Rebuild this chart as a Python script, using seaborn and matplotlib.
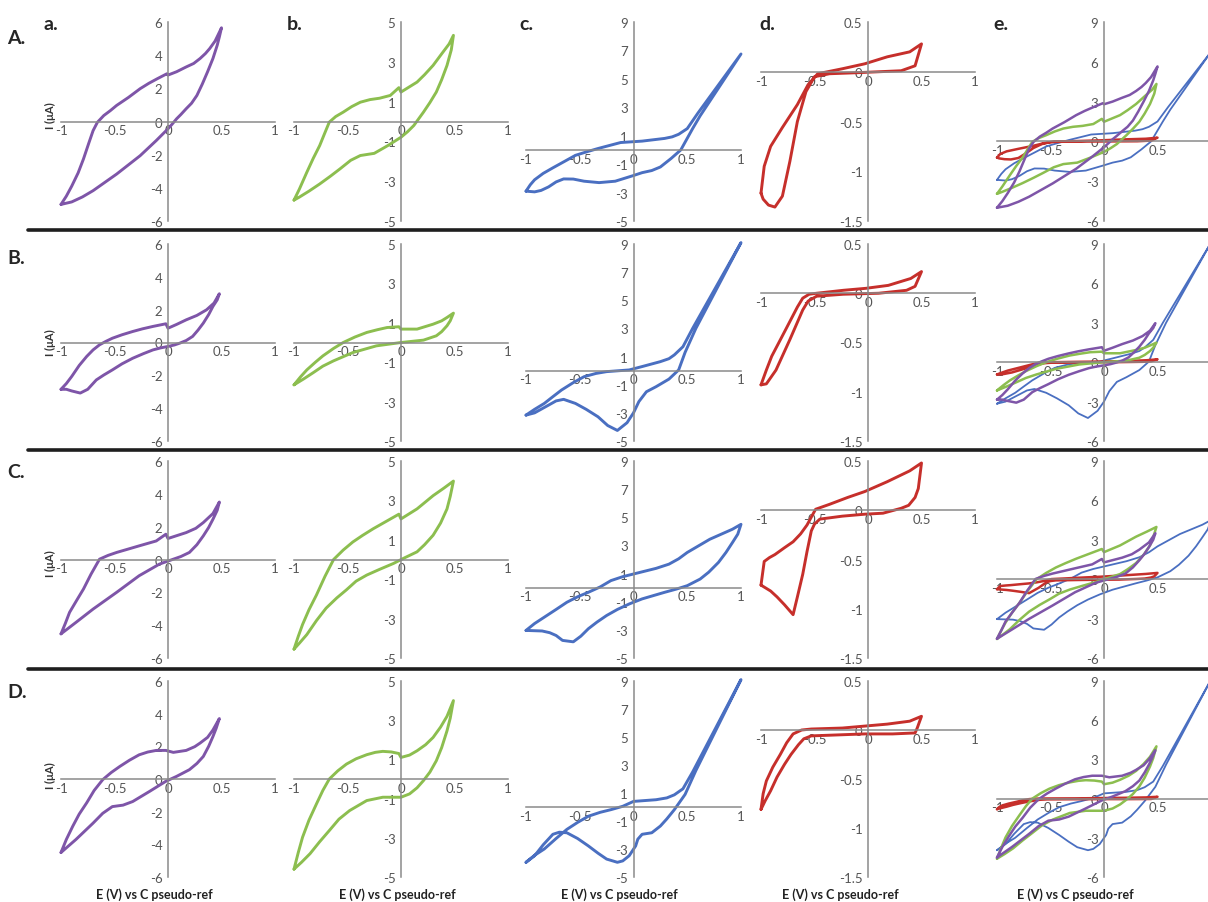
import matplotlib
matplotlib.use("Agg")
import matplotlib.pyplot as plt
from matplotlib.lines import Line2D
import pandas as pd
import seaborn as sns

# ---- data: each cyclic voltammogram as a closed path of (E [V], I [uA])
A_a = [(-1.00, -5.00), (-0.95, -4.50), (-0.90, -3.90), (-0.84, -3.10), (-0.79, -2.26), (-0.74, -1.30),
       (-0.70, -0.55), (-0.66, -0.05), (-0.60, 0.36), (-0.54, 0.65), (-0.48, 0.97), (-0.37, 1.45),
       (-0.26, 1.98), (-0.18, 2.30), (-0.10, 2.58), (-0.01, 2.88), (0.00, 2.80), (0.08, 3.00), (0.17, 3.29),
       (0.24, 3.50), (0.30, 3.80), (0.35, 4.10), (0.39, 4.40), (0.44, 4.85), (0.50, 5.65), (0.48, 5.10),
       (0.46, 4.60), (0.42, 3.80), (0.37, 3.00), (0.32, 2.25), (0.27, 1.57), (0.22, 1.10), (0.17, 0.77),
       (0.12, 0.42), (0.08, 0.16), (0.04, -0.15), (0.00, -0.44), (-0.11, -1.15), (-0.26, -2.06),
       (-0.48, -3.17), (-0.70, -4.17), (-0.80, -4.55), (-0.90, -4.85), (-1.00, -5.00)]
A_b = [(-1.00, -3.95), (-0.95, -3.40), (-0.88, -2.55), (-0.82, -1.85), (-0.76, -1.21), (-0.71, -0.55),
       (-0.67, -0.03), (-0.61, 0.25), (-0.54, 0.47), (-0.46, 0.75), (-0.38, 0.97), (-0.29, 1.10),
       (-0.20, 1.17), (-0.10, 1.31), (-0.02, 1.70), (0.00, 1.48), (0.15, 1.98), (0.22, 2.35), (0.30, 2.82),
       (0.38, 3.40), (0.45, 3.90), (0.49, 4.33), (0.47, 3.60), (0.43, 2.82), (0.38, 2.10), (0.33, 1.48),
       (0.27, 0.95), (0.21, 0.47), (0.12, -0.20), (0.06, -0.52), (0.00, -0.79), (-0.12, -1.20),
       (-0.25, -1.60), (-0.38, -1.71), (-0.47, -1.95), (-0.57, -2.38), (-0.66, -2.75), (-0.76, -3.14),
       (-0.86, -3.50), (-0.95, -3.80), (-1.00, -3.95)]
A_c = [(-1.00, -2.90), (-0.96, -2.45), (-0.92, -2.10), (-0.84, -1.65), (-0.75, -1.26), (-0.64, -0.80),
       (-0.54, -0.38), (-0.43, -0.12), (-0.33, 0.10), (-0.22, 0.32), (-0.12, 0.52), (0.08, 0.62),
       (0.29, 0.81), (0.36, 0.92), (0.42, 1.10), (0.50, 1.50), (0.60, 2.60), (1.00, 6.75), (0.62, 2.40),
       (0.55, 1.50), (0.44, 0.00), (0.35, -0.60), (0.25, -1.20), (0.17, -1.45), (0.08, -1.60),
       (0.00, -1.80), (-0.17, -2.20), (-0.32, -2.30), (-0.46, -2.20), (-0.56, -2.05), (-0.65, -2.04),
       (-0.72, -2.25), (-0.79, -2.60), (-0.86, -2.85), (-0.92, -2.95), (-1.00, -2.90)]
A_d = [(-1.00, -1.22), (-0.97, -0.95), (-0.91, -0.75), (-0.80, -0.56), (-0.66, -0.33), (-0.56, -0.13),
       (-0.47, -0.02), (-0.24, 0.03), (-0.03, 0.08), (0.18, 0.15), (0.39, 0.20), (0.50, 0.28), (0.44, 0.06),
       (0.31, 0.01), (0.10, 0.00), (-0.11, -0.01), (-0.36, -0.02), (-0.50, -0.05), (-0.58, -0.20),
       (-0.66, -0.50), (-0.73, -0.90), (-0.80, -1.25), (-0.87, -1.36), (-0.93, -1.34), (-0.98, -1.28),
       (-1.00, -1.22)]

B_a = [(-1.00, -2.85), (-0.95, -2.50), (-0.90, -2.07), (-0.83, -1.40), (-0.76, -0.85), (-0.70, -0.45),
       (-0.64, -0.14), (-0.58, 0.07), (-0.52, 0.26), (-0.43, 0.47), (-0.33, 0.67), (-0.24, 0.83),
       (-0.14, 0.98), (-0.02, 1.14), (0.00, 0.87), (0.08, 1.10), (0.17, 1.38), (0.27, 1.65), (0.36, 1.99),
       (0.43, 2.40), (0.48, 2.97), (0.46, 2.60), (0.42, 2.20), (0.38, 1.70), (0.33, 1.18), (0.28, 0.75),
       (0.23, 0.37), (0.17, 0.12), (0.11, -0.04), (0.06, -0.15), (0.00, -0.24), (-0.07, -0.33),
       (-0.14, -0.45), (-0.23, -0.68), (-0.33, -0.96), (-0.43, -1.30), (-0.52, -1.67), (-0.60, -1.98),
       (-0.67, -2.28), (-0.75, -2.85), (-0.82, -3.08), (-0.90, -2.95), (-0.95, -2.85), (-1.00, -2.85)]
B_b = [(-1.00, -2.15), (-0.94, -1.75), (-0.88, -1.39), (-0.80, -1.00), (-0.73, -0.68), (-0.63, -0.30),
       (-0.54, 0.00), (-0.43, 0.28), (-0.32, 0.51), (-0.22, 0.65), (-0.13, 0.76), (-0.02, 0.80), (0.00, 0.68),
       (0.15, 0.68), (0.30, 0.93), (0.38, 1.10), (0.43, 1.27), (0.49, 1.49), (0.46, 1.10), (0.43, 0.85),
       (0.38, 0.55), (0.33, 0.34), (0.21, 0.12), (0.00, 0.00), (-0.23, -0.17), (-0.45, -0.51),
       (-0.63, -0.93), (-0.73, -1.20), (-0.82, -1.53), (-0.91, -1.85), (-1.00, -2.15)]
B_c = [(-1.00, -3.16), (-0.92, -2.75), (-0.83, -2.33), (-0.75, -1.85), (-0.67, -1.38), (-0.56, -0.85),
       (-0.46, -0.43), (-0.35, -0.20), (-0.25, -0.07), (-0.04, 0.05), (0.08, 0.29), (0.25, 0.64),
       (0.33, 0.85), (0.38, 1.12), (0.46, 1.70), (0.55, 3.00), (1.00, 9.10), (0.58, 3.00), (0.48, 1.30),
       (0.42, 0.05), (0.33, -0.60), (0.21, -1.14), (0.12, -1.50), (0.05, -2.20), (0.00, -3.00),
       (-0.06, -3.70), (-0.15, -4.25), (-0.24, -3.90), (-0.33, -3.28), (-0.44, -2.75), (-0.54, -2.33),
       (-0.65, -2.04), (-0.72, -2.15), (-0.79, -2.45), (-0.92, -3.00), (-1.00, -3.16)]
B_d = [(-1.00, -0.93), (-0.95, -0.78), (-0.90, -0.64), (-0.77, -0.37), (-0.66, -0.14), (-0.61, -0.05),
       (-0.55, -0.01), (-0.48, 0.00), (-0.23, 0.03), (-0.02, 0.05), (0.19, 0.08), (0.40, 0.15), (0.50, 0.22),
       (0.44, 0.07), (0.36, 0.03), (0.10, 0.00), (-0.23, -0.01), (-0.48, -0.03), (-0.56, -0.08),
       (-0.61, -0.17), (-0.73, -0.47), (-0.86, -0.78), (-0.95, -0.92), (-1.00, -0.93)]

C_a = [(-1.00, -4.53), (-0.96, -3.90), (-0.92, -3.22), (-0.85, -2.45), (-0.79, -1.80), (-0.72, -0.90),
       (-0.64, 0.02), (-0.56, 0.25), (-0.48, 0.43), (-0.38, 0.62), (-0.27, 0.83), (-0.11, 1.13),
       (-0.02, 1.54), (0.00, 1.28), (0.17, 1.64), (0.26, 1.90), (0.33, 2.25), (0.42, 2.80), (0.48, 3.50),
       (0.46, 3.00), (0.42, 2.45), (0.38, 1.95), (0.33, 1.44), (0.27, 0.90), (0.20, 0.43), (0.12, 0.18),
       (0.05, 0.02), (-0.08, -0.28), (-0.27, -0.99), (-0.48, -2.00), (-0.70, -3.02), (-0.86, -3.83),
       (-1.00, -4.53)]
C_b = [(-1.00, -4.55), (-0.96, -3.90), (-0.92, -3.30), (-0.86, -2.55), (-0.79, -1.80), (-0.71, -0.85),
       (-0.63, 0.00), (-0.54, 0.48), (-0.45, 0.89), (-0.36, 1.22), (-0.26, 1.56), (-0.14, 1.93),
       (-0.02, 2.30), (0.00, 2.06), (0.15, 2.57), (0.30, 3.24), (0.40, 3.62), (0.49, 3.98), (0.46, 3.20),
       (0.43, 2.57), (0.37, 1.85), (0.30, 1.23), (0.22, 0.75), (0.15, 0.39), (0.02, 0.05), (-0.07, -0.20),
       (-0.20, -0.50), (-0.32, -0.79), (-0.42, -1.10), (-0.51, -1.54), (-0.60, -1.95), (-0.70, -2.47),
       (-0.79, -3.10), (-0.88, -3.81), (-0.95, -4.25), (-1.00, -4.55)]
C_c = [(-1.00, -3.04), (-0.92, -2.55), (-0.83, -2.10), (-0.72, -1.55), (-0.62, -1.04), (-0.52, -0.65),
       (-0.42, -0.33), (-0.31, 0.05), (-0.21, 0.50), (-0.10, 0.78), (0.00, 0.97), (0.21, 1.37), (0.33, 1.67),
       (0.42, 2.05), (0.50, 2.50), (0.71, 3.44), (0.92, 4.15), (1.00, 4.50), (0.97, 3.80), (0.92, 3.20),
       (0.86, 2.50), (0.79, 1.79), (0.70, 1.10), (0.62, 0.61), (0.50, 0.14), (0.40, -0.10), (0.29, -0.33),
       (0.08, -0.80), (-0.04, -1.16), (-0.15, -1.55), (-0.25, -1.98), (-0.34, -2.45), (-0.42, -2.92),
       (-0.49, -3.45), (-0.56, -3.85), (-0.66, -3.75), (-0.72, -3.40), (-0.78, -3.20), (-0.85, -3.08),
       (-1.00, -3.04)]
C_d = [(-1.00, -0.76), (-0.97, -0.52), (-0.92, -0.48), (-0.87, -0.45), (-0.78, -0.38), (-0.70, -0.32),
       (-0.63, -0.24), (-0.57, -0.15), (-0.49, 0.01), (-0.36, 0.06), (-0.19, 0.13), (-0.03, 0.19),
       (0.18, 0.29), (0.39, 0.40), (0.50, 0.48), (0.47, 0.22), (0.44, 0.13), (0.38, 0.05), (0.31, 0.02),
       (0.14, -0.03), (-0.03, -0.04), (-0.24, -0.06), (-0.45, -0.09), (-0.50, -0.14), (-0.53, -0.21),
       (-0.57, -0.42), (-0.61, -0.65), (-0.66, -0.88), (-0.70, -1.06), (-0.74, -1.01), (-0.78, -0.96),
       (-0.85, -0.88), (-0.91, -0.82), (-1.00, -0.76)]

D_a = [(-1.00, -4.50), (-0.95, -3.70), (-0.89, -2.89), (-0.83, -2.15), (-0.76, -1.46), (-0.69, -0.70),
       (-0.61, -0.04), (-0.53, 0.40), (-0.45, 0.77), (-0.36, 1.15), (-0.27, 1.48), (-0.19, 1.65),
       (-0.11, 1.75), (-0.02, 1.75), (0.05, 1.63), (0.17, 1.75), (0.25, 1.98), (0.30, 2.20), (0.37, 2.55),
       (0.42, 3.00), (0.48, 3.70), (0.45, 3.10), (0.42, 2.60), (0.38, 2.00), (0.33, 1.38), (0.27, 0.95),
       (0.20, 0.57), (0.08, 0.16), (-0.02, -0.14), (-0.17, -0.75), (-0.33, -1.38), (-0.42, -1.60),
       (-0.52, -1.69), (-0.61, -2.10), (-0.70, -2.70), (-0.78, -3.20), (-0.86, -3.70), (-1.00, -4.50)]
D_b = [(-1.00, -4.60), (-0.96, -3.75), (-0.92, -2.97), (-0.86, -2.10), (-0.79, -1.27), (-0.73, -0.58),
       (-0.67, 0.00), (-0.59, 0.42), (-0.51, 0.76), (-0.42, 1.03), (-0.32, 1.24), (-0.24, 1.36),
       (-0.17, 1.41), (-0.09, 1.38), (-0.02, 1.30), (0.00, 1.10), (0.08, 1.22), (0.15, 1.44), (0.23, 1.75),
       (0.30, 2.12), (0.37, 2.65), (0.43, 3.20), (0.49, 4.00), (0.46, 3.10), (0.43, 2.46), (0.38, 1.60),
       (0.33, 0.93), (0.27, 0.35), (0.21, -0.08), (0.15, -0.45), (0.08, -0.76), (0.00, -0.93),
       (-0.17, -0.93), (-0.32, -1.10), (-0.48, -1.61), (-0.58, -2.05), (-0.67, -2.63), (-0.76, -3.20),
       (-0.85, -3.81), (-0.93, -4.25), (-1.00, -4.60)]
D_c = [(-1.00, -3.95), (-0.92, -3.45), (-0.83, -3.00), (-0.72, -2.25), (-0.62, -1.60), (-0.52, -1.10),
       (-0.42, -0.66), (-0.31, -0.38), (-0.21, -0.19), (-0.10, 0.05), (0.00, 0.40), (0.21, 0.52),
       (0.31, 0.65), (0.38, 0.87), (0.46, 1.30), (0.55, 2.50), (1.00, 9.10), (0.58, 2.60), (0.48, 0.90),
       (0.38, -0.19), (0.31, -0.85), (0.25, -1.36), (0.17, -1.84), (0.08, -1.95), (0.04, -2.30),
       (0.02, -2.78), (-0.04, -3.48), (-0.10, -3.85), (-0.15, -3.95), (-0.25, -3.72), (-0.33, -3.30),
       (-0.42, -2.78), (-0.52, -2.25), (-0.62, -1.84), (-0.69, -1.80), (-0.75, -1.95), (-0.84, -2.70),
       (-0.92, -3.48), (-1.00, -3.95)]
D_d = [(-1.00, -0.81), (-0.98, -0.65), (-0.95, -0.52), (-0.89, -0.38), (-0.82, -0.25), (-0.76, -0.13),
       (-0.70, -0.04), (-0.62, 0.00), (-0.53, 0.01), (-0.24, 0.02), (-0.03, 0.04), (0.18, 0.06),
       (0.39, 0.09), (0.50, 0.14), (0.46, 0.02), (0.44, -0.03), (0.23, -0.04), (-0.03, -0.04),
       (-0.28, -0.05), (-0.53, -0.06), (-0.60, -0.09), (-0.65, -0.15), (-0.72, -0.25), (-0.78, -0.35),
       (-0.85, -0.48), (-0.91, -0.62), (-0.96, -0.72), (-1.00, -0.81)]

row_names = ["A.", "B.", "C.", "D."]
col_names = ["a.", "b.", "c.", "d.", "e."]
rows = [[A_a, A_b, A_c, A_d], [B_a, B_b, B_c, B_d], [C_a, C_b, C_c, C_d], [D_a, D_b, D_c, D_d]]

x_ticks = [-1, -0.5, 0, 0.5, 1]
y_limits = [(-6, 6), (-5, 5), (-5, 9), (-1.5, 0.5), (-6, 9)]
y_major = [[-6, -4, -2, 0, 2, 4, 6], [-5, -3, -1, 1, 3, 5], [-5, -3, -1, 1, 3, 5, 7, 9],
           [-1.5, -1, -0.5, 0, 0.5], [-6, -3, 0, 3, 6, 9]]
y_minor = [None, [-4, -2, 0, 2, 4], None, None, None]

colors = ["#7E55A8", "#8CBE4F", "#4A6FC1", "#C62F2B"]
AXIS = "#8a8a8a"
TICKTXT = "#555555"

sns.set_style("white")
plt.rcParams["font.family"] = ["Lato", "DejaVu Sans"]
plt.rcParams["axes.unicode_minus"] = False

W, H = 1208, 903
fig = plt.figure(figsize=(W / 100, H / 100), dpi=100)
fig.patch.set_facecolor("white")

col_px = [(61, 275), (294, 508), (526, 741), (761, 975), (997, 1211)]
row_px = [(23, 222), (245, 442), (462, 659), (682, 878)]


def rect(x0, x1, y0, y1):
    return [x0 / W, 1 - y1 / H, (x1 - x0) / W, (y1 - y0) / H]


def style(ax, j):
    ax.set_xlim(-1, 1)
    ax.set_ylim(*y_limits[j])
    ax.patch.set_alpha(0)
    for s in ["top", "right"]:
        ax.spines[s].set_visible(False)
    for s in ["left", "bottom"]:
        ax.spines[s].set_position(("data", 0))
        ax.spines[s].set_color(AXIS)
        ax.spines[s].set_linewidth(1.1)
    ax.set_xticks(x_ticks)
    ax.set_xticklabels([f"{v:g}" for v in x_ticks])
    ax.set_yticks(y_major[j])
    ax.set_yticklabels([f"{v:g}" for v in y_major[j]])
    if y_minor[j]:
        ax.set_yticks(y_minor[j], minor=True)
    ax.tick_params(axis="y", which="both", direction="out", length=3, width=1, color=AXIS,
                   labelsize=9.5, labelcolor=TICKTXT, pad=1)
    ax.tick_params(axis="x", direction="in", length=3, width=1, color=AXIS,
                   labelsize=9.5, labelcolor=TICKTXT, pad=2)
    ax.set_xlabel("")
    ax.set_ylabel("")


def draw(ax, pts, color, lw):
    df = pd.DataFrame(pts, columns=["E", "I"])
    sns.lineplot(data=df, x="E", y="I", sort=False, estimator=None, color=color,
                 linewidth=lw, ax=ax, clip_on=False, solid_joinstyle="round")


for i, curves in enumerate(rows):
    y0, y1 = row_px[i]
    for j in range(5):
        x0, x1 = col_px[j]
        ax = fig.add_axes(rect(x0, x1, y0, y1))
        if j < 4:
            draw(ax, curves[j], colors[j], 2.1)
        else:
            for k in [2, 3, 1, 0]:
                draw(ax, curves[k], colors[k], 1.3 if k == 2 else 1.8)
        style(ax, j)

# separators between rows
for yy in [231, 451, 670]:
    fig.add_artist(Line2D([28 / W, 1], [1 - yy / H] * 2, color="#1e1e1e", lw=2.6))

# row / column labels
for name, yy in zip(row_names, [39, 259, 473, 693]):
    fig.text(7 / W, 1 - yy / H, name, fontsize=14, fontweight="bold", va="center", ha="left")
for name, xx in zip(col_names, [43, 287, 519, 759, 993]):
    fig.text(xx / W, 1 - 30 / H, name, fontsize=14, fontweight="bold", va="baseline", ha="left")
for yy in [116, 343, 564, 776]:
    fig.text(50 / W, 1 - yy / H, "I (μA)", fontsize=8, fontweight="bold", rotation=90,
             va="center", ha="center", color="#333333")
for xx in [154, 397, 619, 840, 1075]:
    fig.text(xx / W, 1 - 895 / H, "E (V) vs C pseudo-ref", fontsize=9, fontweight="bold",
             va="center", ha="center", color="#222222")

fig.savefig("out.png", dpi=100, facecolor="white")
